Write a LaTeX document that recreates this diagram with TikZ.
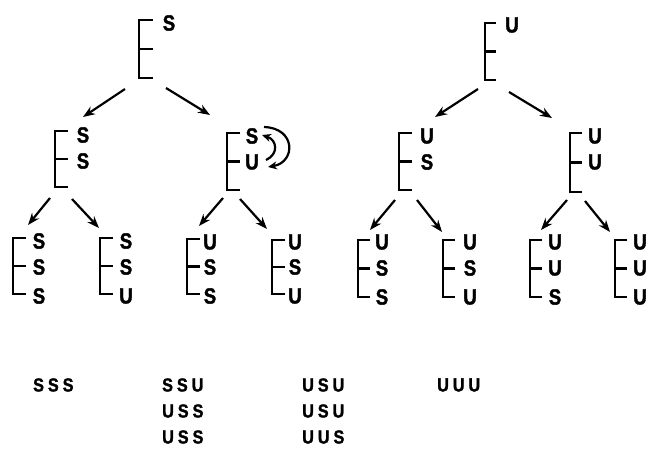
\documentclass[tikz,border=0pt]{standalone}
\usepackage{fontspec}
\setsansfont{Liberation Sans}[FakeStretch=0.85,FakeBold=1.5]
\usetikzlibrary{arrows.meta}
\tikzset{
  brkline/.style={line width=2.4pt},
  brknode/.style={inner sep=0pt, outer sep=0pt, anchor=north west, minimum width=#1},
  ltr/.style={inner sep=0pt, font=\sffamily\bfseries\fontsize{22}{22}\selectfont},
  res/.style={inner sep=0pt, anchor=west, font=\sffamily\bfseries\fontsize{19}{19}\selectfont},
  arr/.style={line width=2.2pt, -{Stealth[length=12pt,width=9pt]}},
  carr/.style={line width=2.2pt, -{Stealth[length=9pt,width=8pt]}},
}
\newcommand\Brk[5]{%
  \node[brknode=#5pt, minimum height=#4pt] (#1) at (#2,#3) {};
  \draw[brkline] (#1.north east) -- (#1.north west) -- (#1.south west) -- (#1.south east)
                 (#1.west) -- (#1.east);
}
\newcommand\Sp{\hspace{4pt}}
\begin{document}
\begin{tikzpicture}[x=1pt,y=-1pt]
\useasboundingbox (0,0) rectangle (650,448);

% ---------- left tree ----------
\Brk{rs}{139}{20}{58}{14}
\node[ltr] (rs1) at (169,23) {S};

\Brk{sa}{55}{131}{56}{13}
\node[ltr] (sa1) at (83,135) {S};
\node[ltr] (sa2) at (83,161) {S};

\Brk{sb}{227}{133}{57}{13}
\node[ltr] (sb1) at (252,136) {S};
\node[ltr] (sb2) at (252,162) {U};

\Brk{saa}{13}{238}{56}{13}
\node[ltr] (saa1) at (39,241) {S};
\node[ltr] (saa2) at (39,267) {S};
\node[ltr] (saa3) at (39,296) {S};

\Brk{sab}{100}{238}{56}{13}
\node[ltr] (sab1) at (126,241) {S};
\node[ltr] (sab2) at (126,267) {S};
\node[ltr] (sab3) at (126,296) {U};

\Brk{sba}{187}{239}{55}{13}
\node[ltr] (sba1) at (210,242) {U};
\node[ltr] (sba2) at (210,267) {S};
\node[ltr] (sba3) at (210,296) {S};

\Brk{sbb}{272}{240}{54}{13}
\node[ltr] (sbb1) at (295,242) {U};
\node[ltr] (sbb2) at (295,267) {S};
\node[ltr] (sbb3) at (295,296) {U};

\draw[arr] ([shift={(-14,11)}]rs.south west) -- ([shift={(28,-14)}]sa.north west);
\draw[arr] ([shift={(27,10)}]rs.south west) -- ([shift={(-17,-18)}]sb.north west);
\draw[arr] ([shift={(-5,11)}]sa.south west) -- ([shift={(15,-13)}]saa.north west);
\draw[arr] ([shift={(17,12)}]sa.south west) -- ([shift={(-1,-10)}]sab.north west);
\draw[arr] ([shift={(-4,8)}]sb.south west) -- ([shift={(12,-13)}]sba.north west);
\draw[arr] ([shift={(13,9)}]sb.south west) -- ([shift={(-5,-11)}]sbb.north west);

% exchange arrows
\draw[carr] ([shift={(12,-9)}]sb1.center) .. controls ([shift={(44,-8)}]sb1.center) and ([shift={(44,0)}]sb2.center) .. ([shift={(16,5)}]sb2.center);
\draw[carr] ([shift={(14,-2)}]sb2.center) .. controls ([shift={(27,-8)}]sb2.center) and ([shift={(25,4)}]sb1.center) .. ([shift={(10,-1)}]sb1.center);

% ---------- right tree ----------
\Brk{ru}{485}{23}{57}{11}
\node[ltr] (ru1) at (512,25) {U};

\Brk{ua}{399}{133}{57}{13}
\node[ltr] (ua1) at (427,136) {U};
\node[ltr] (ua2) at (427,162) {S};

\Brk{ub}{570}{133}{59}{12}
\node[ltr] (ub1) at (595,136) {U};
\node[ltr] (ub2) at (595,162) {U};

\Brk{uaa}{358}{240}{57}{12}
\node[ltr] (uaa1) at (382,242) {U};
\node[ltr] (uaa2) at (382,268) {S};
\node[ltr] (uaa3) at (382,297) {S};

\Brk{uab}{443}{240}{57}{12}
\node[ltr] (uab1) at (470,242) {U};
\node[ltr] (uab2) at (470,268) {S};
\node[ltr] (uab3) at (470,297) {U};

\Brk{uba}{530}{240}{57}{12}
\node[ltr] (uba1) at (555,242) {U};
\node[ltr] (uba2) at (555,268) {U};
\node[ltr] (uba3) at (555,297) {S};

\Brk{ubb}{615}{240}{57}{12}
\node[ltr] (ubb1) at (640,242) {U};
\node[ltr] (ubb2) at (640,268) {U};
\node[ltr] (ubb3) at (640,297) {U};

\draw[arr] ([shift={(-7,9)}]ru.south west) -- ([shift={(36,-16)}]ua.north west);
\draw[arr] ([shift={(24,12)}]ru.south west) -- ([shift={(-18,-15)}]ub.north west);
\draw[arr] ([shift={(-4,10)}]ua.south west) -- ([shift={(12,-10)}]uaa.north west);
\draw[arr] ([shift={(18,10)}]ua.south west) -- ([shift={(-1,-8)}]uab.north west);
\draw[arr] ([shift={(-3,8)}]ub.south west) -- ([shift={(11,-10)}]uba.north west);
\draw[arr] ([shift={(15,9)}]ub.south west) -- ([shift={(-5,-8)}]ubb.north west);

% ---------- results ----------
\node[res] (r1) at (33,385) {S\Sp S\Sp S};
\node[res] (r2) at (162,385) {S\Sp S\Sp U};
\node[res] (r3) at (162,411) {U\Sp S\Sp S};
\node[res] (r4) at (162,437) {U\Sp S\Sp S};
\node[res] (r5) at (302,385) {U\Sp S\Sp U};
\node[res] (r6) at (302,411) {U\Sp S\Sp U};
\node[res] (r7) at (302,437) {U\Sp U\Sp S};
\node[res] (r8) at (437,385) {U\Sp U\Sp U};
\end{tikzpicture}
\end{document}
